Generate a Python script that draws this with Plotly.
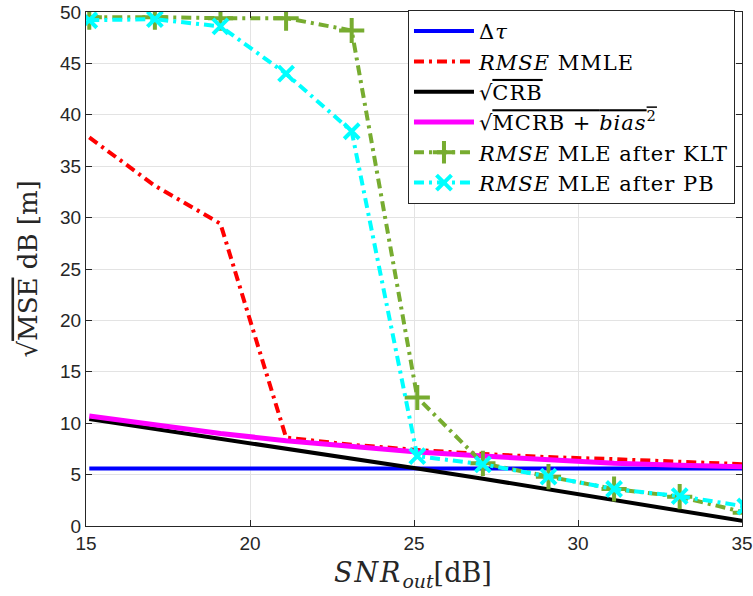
import plotly.graph_objects as go

snr = [15.1, 17.1, 19.1, 21.1, 23.1, 25.1, 27.1, 29.1, 31.1, 33.1, 35.1]
delta_tau = [5.6] * 11
rmse_mmle = [37.8, 33.1, 29.4, 8.6, 7.9, 7.4, 7.0, 6.7, 6.5, 6.3, 6.0]
sqrt_crb = [10.4, 9.45, 8.5, 7.5, 6.55, 5.6, 4.6, 3.55, 2.5, 1.5, 0.45]
sqrt_mcrb = [10.7, 9.8, 9.0, 8.3, 7.7, 7.2, 6.8, 6.4, 6.1, 5.9, 5.75]
rmse_klt = [49.5, 49.5, 49.4, 49.4, 48.2, 12.5, 6.1, 4.8, 3.6, 2.85, 1.3]
rmse_pb = [49.2, 49.3, 48.6, 44.0, 38.4, 6.8, 6.0, 4.8, 3.6, 2.9, 1.9]

x_ticks = [15, 20, 25, 30, 35]
y_ticks = [0, 5, 10, 15, 20, 25, 30, 35, 40, 45, 50]

ov = "<span style='text-decoration:overline'>"
ls = "<span style='letter-spacing:1px'>"
names = [
    ls + "Δ<i>τ</i></span>",
    ls + "<i>RMSE</i> MMLE</span>",
    "√" + ov + ls + "CRB</span></span>",
    "√" + ov + ls + "MCRB + <i>bias</i><sup>2</sup></span></span>",
    ls + "<i>RMSE</i> MLE after KLT</span>",
    ls + "<i>RMSE</i> MLE after PB</span>",
]

serif = "DejaVu Serif"
dd = "10px,5px,3px,5px"
fig = go.Figure()
fig.add_trace(go.Scatter(x=snr, y=delta_tau, mode="lines", name=names[0],
                         line=dict(color="#0000FF", width=4)))
fig.add_trace(go.Scatter(x=snr, y=rmse_mmle, mode="lines", name=names[1],
                         line=dict(color="#FF0000", width=4, dash=dd)))
fig.add_trace(go.Scatter(x=snr, y=sqrt_crb, mode="lines", name=names[2],
                         line=dict(color="#000000", width=4)))
fig.add_trace(go.Scatter(x=snr, y=sqrt_mcrb, mode="lines", name=names[3],
                         line=dict(color="#FF00FF", width=5)))
fig.add_trace(go.Scatter(x=snr, y=rmse_klt, mode="lines+markers", name=names[4],
                         line=dict(color="#77AC30", width=4, dash=dd),
                         marker=dict(symbol="cross-thin", size=18,
                                     line=dict(color="#77AC30", width=4))))
fig.add_trace(go.Scatter(x=snr, y=rmse_pb, mode="lines+markers", name=names[5],
                         line=dict(color="#00FFFF", width=4, dash=dd),
                         marker=dict(symbol="x-thin", size=15,
                                     line=dict(color="#00FFFF", width=4))))

axis_common = dict(showgrid=True, gridcolor="#E3E3E3", gridwidth=1,
                   showline=True, linecolor="#262626", linewidth=1, mirror="ticks",
                   ticks="inside", ticklen=6, tickcolor="#262626",
                   tickfont=dict(family="Liberation Sans, Arial", size=19, color="#262626"),
                   zeroline=False, automargin=False)

fig.update_layout(
    width=753, height=596,
    margin=dict(l=86, r=11, t=11, b=70),
    paper_bgcolor="white", plot_bgcolor="white",
    xaxis=dict(range=[15, 35], tickvals=x_ticks, **axis_common),
    yaxis=dict(range=[0, 50], tickvals=y_ticks, **axis_common),
    legend=dict(x=0.9893, y=1.002, xanchor="right", yanchor="top",
                bgcolor="white", bordercolor="#262626", borderwidth=1,
                font=dict(family=serif, size=21, color="#000000"),
                itemwidth=60, tracegroupgap=0),
    showlegend=True,
)

fig.add_annotation(
    text="<span style='letter-spacing:2px'><i>SNR</i></span><sub><i>out</i></sub>[dB]",
    xref="paper", yref="paper", x=0.499, y=-0.095,
    xanchor="center", yanchor="middle", showarrow=False,
    font=dict(family=serif, size=27, color="#262626"))
fig.add_annotation(
    text="√" + ov + "MSE</span> dB [m]",
    xref="paper", yref="paper", x=-0.0884, y=0.499, textangle=-90,
    xanchor="center", yanchor="middle", showarrow=False,
    font=dict(family=serif, size=26, color="#262626"))

fig.write_html("out.html")
